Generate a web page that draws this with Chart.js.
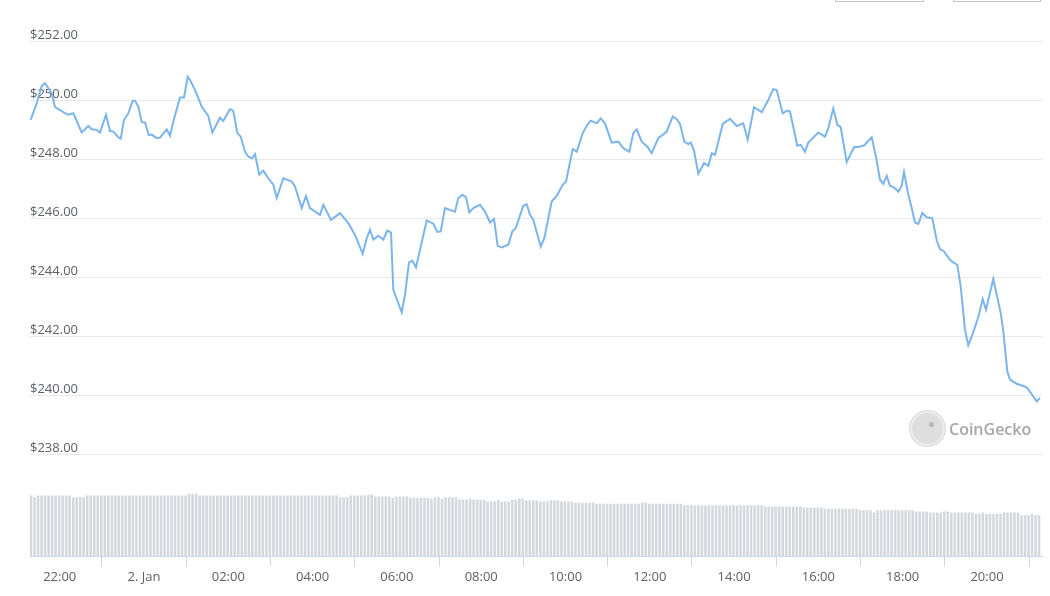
<!DOCTYPE html>
<html>
<head>
<meta charset="utf-8">
<title>Price chart</title>
<script src="https://cdn.jsdelivr.net/npm/chart.js@4.4.1/dist/chart.umd.min.js"></script>
<style>
  body { margin: 0; background: #fff; }
  #wrap { position: relative; width: 1050px; height: 596px; overflow: hidden; }
  .btn { position: absolute; top: -20px; height: 20px; border: 1px solid #c8c8c8; background: #fff; }
  .wm { position: absolute; left: 910px; top: 411px; display: flex; align-items: center; }
  .wm .logo { width: 31px; height: 31px; border-radius: 50%; background: #dedede; border: 2px solid #eeeeee; box-shadow: 0 0 0 1px #d6d6d6; position: relative; }
  .wm .logo .eye { position: absolute; left: 17px; top: 9px; width: 5px; height: 5px; border-radius: 50%; background: #b5b5b5; }
  .wm span { margin-left: 4px; font: 600 16px 'Open Sans', sans-serif; color: #a6a6a6; }
</style>
</head>
<body>
<div id="wrap">
  <canvas id="priceChart" width="1050" height="596"></canvas>
  <div class="btn" style="left:835px;width:87px"></div>
  <div class="btn" style="left:953px;width:86px"></div>
  <div class="wm"><div class="logo"><div class="eye"></div></div><span>CoinGecko</span></div>
</div>
<script>
// hours relative to 00:00 on 2 Jan (negative = 1 Jan)
const priceTimes = [
  -2.688, -2.546, -2.427, -2.349, -2.190, -2.111, -1.915, -1.796, -1.677, -1.478,
  -1.321, -1.241, -1.122, -1.044, -0.902, -0.807, -0.728, -0.610, -0.553, -0.474,
  -0.372, -0.268, -0.214, -0.135, -0.055, 0.024, 0.112, 0.183, 0.301, 0.380,
  0.539, 0.617, 0.695, 0.854, 0.949, 1.037, 1.091, 1.210, 1.369, 1.525,
  1.620, 1.803, 1.881, 2.040, 2.119, 2.214, 2.294, 2.396, 2.475, 2.569,
  2.633, 2.735, 2.830, 2.949, 3.068, 3.148, 3.305, 3.504, 3.582, 3.741,
  3.843, 3.938, 4.176, 4.254, 4.437, 4.650, 4.847, 5.006, 5.189, 5.283,
  5.362, 5.440, 5.559, 5.677, 5.772, 5.860, 5.915, 6.114, 6.192, 6.287,
  6.365, 6.453, 6.707, 6.864, 6.959, 7.039, 7.141, 7.378, 7.457, 7.552,
  7.639, 7.718, 7.813, 7.972, 8.090, 8.209, 8.304, 8.391, 8.486, 8.643,
  8.738, 8.819, 8.999, 9.079, 9.158, 9.236, 9.412, 9.497, 9.673, 9.791,
  9.934, 10.012, 10.171, 10.266, 10.408, 10.517, 10.598, 10.740, 10.835, 10.937,
  11.096, 11.253, 11.371, 11.514, 11.609, 11.689, 11.808, 11.941, 12.045, 12.202,
  12.401, 12.543, 12.638, 12.717, 12.819, 12.913, 12.970, 13.049, 13.151, 13.286,
  13.388, 13.469, 13.547, 13.730, 13.903, 14.062, 14.218, 14.323, 14.472, 14.655,
  14.811, 14.930, 15.011, 15.153, 15.262, 15.326, 15.500, 15.580, 15.682, 15.760,
  15.998, 16.157, 16.235, 16.354, 16.448, 16.529, 16.671, 16.845, 16.970, 17.082,
  17.265, 17.367, 17.461, 17.540, 17.620, 17.699, 17.794, 17.896, 17.976, 18.031,
  18.133, 18.214, 18.292, 18.370, 18.465, 18.569, 18.702, 18.807, 18.885, 18.980,
  19.122, 19.200, 19.295, 19.376, 19.478, 19.556, 19.661, 19.794, 19.898, 19.976,
  20.149, 20.325, 20.387, 20.482, 20.546, 20.705, 20.830, 20.949, 21.098, 21.179,
  21.258
];
const prices = [
  249.33, 249.89, 250.48, 250.57, 250.23, 249.76, 249.59, 249.50, 249.55, 248.90,
  249.12, 249.01, 248.99, 248.90, 249.50, 248.95, 248.93, 248.74, 248.69, 249.33,
  249.55, 249.98, 249.98, 249.78, 249.25, 249.24, 248.81, 248.83, 248.71, 248.73,
  249.01, 248.79, 249.27, 250.09, 250.09, 250.79, 250.68, 250.34, 249.78, 249.46,
  248.90, 249.40, 249.29, 249.69, 249.63, 248.88, 248.76, 248.25, 248.08, 248.03,
  248.17, 247.47, 247.61, 247.35, 247.13, 246.68, 247.35, 247.24, 247.07, 246.34,
  246.75, 246.34, 246.11, 246.45, 245.94, 246.17, 245.83, 245.43, 244.79, 245.32,
  245.60, 245.27, 245.40, 245.27, 245.58, 245.51, 243.57, 242.81, 243.40, 244.50,
  244.56, 244.33, 245.92, 245.81, 245.53, 245.55, 246.34, 246.22, 246.68, 246.79,
  246.71, 246.19, 246.34, 246.45, 246.22, 245.85, 245.97, 245.06, 245.01, 245.10,
  245.55, 245.66, 246.42, 246.47, 246.11, 245.94, 245.04, 245.32, 246.56, 246.75,
  247.13, 247.24, 248.34, 248.25, 248.88, 249.16, 249.30, 249.21, 249.38, 249.21,
  248.56, 248.59, 248.37, 248.25, 248.88, 249.01, 248.59, 248.42, 248.20, 248.71,
  248.93, 249.44, 249.35, 249.19, 248.59, 248.51, 248.56, 248.29, 247.50, 247.86,
  247.77, 248.20, 248.14, 249.19, 249.36, 249.12, 249.21, 248.65, 249.76, 249.59,
  250.00, 250.37, 250.34, 249.55, 249.64, 249.61, 248.45, 248.48, 248.25, 248.56,
  248.90, 248.76, 249.05, 249.72, 249.16, 249.08, 247.90, 248.40, 248.42, 248.46,
  248.74, 248.08, 247.30, 247.16, 247.43, 247.09, 247.04, 246.90, 247.09, 247.56,
  246.79, 246.34, 245.85, 245.80, 246.17, 246.03, 246.00, 245.24, 244.95, 244.87,
  244.59, 244.50, 244.42, 243.69, 242.22, 241.69, 242.08, 242.65, 243.26, 242.90,
  243.94, 242.79, 242.16, 240.81, 240.53, 240.39, 240.33, 240.26, 239.96, 239.79,
  239.91
];

// 24h rolling volume (millions), one bar every 5 minutes, as [value, number of bars]
const volumeStart = -2.68;
const volumeRuns = [
  [610, 1], [593, 1], [610, 10], [593, 4], [610, 29], [627, 3], [610, 40], [593, 3],
  [610, 5], [617, 2], [600, 5], [587, 1], [600, 4], [587, 6], [577, 1], [593, 2],
  [577, 1], [593, 4], [570, 3], [580, 1], [567, 4], [550, 3], [567, 1], [550, 3],
  [567, 2], [580, 2], [563, 4], [550, 3], [563, 3], [550, 4], [537, 6], [527, 13],
  [540, 2], [527, 10], [513, 23], [500, 11], [490, 6], [477, 10], [463, 4], [440, 1],
  [463, 11], [450, 4], [440, 4], [450, 2], [440, 7], [427, 2], [440, 1], [427, 5],
  [440, 5], [413, 3], [427, 1], [413, 2]
];

const tickHours = [-2, 0, 2, 4, 6, 8, 10, 12, 14, 16, 18, 20];
const tickLabels = ['22:00', '2. Jan', '02:00', '04:00', '06:00', '08:00', '10:00', '12:00', '14:00', '16:00', '18:00', '20:00'];
const priceTicks = [238, 240, 242, 244, 246, 248, 250, 252];

const linePoints = priceTimes.map((t, i) => ({ x: t, y: prices[i] }));
const volumePoints = [];
volumeRuns.forEach(run => {
    for (let k = 0; k < run[1]; k++) {
        volumePoints.push({ x: volumeStart + volumePoints.length / 12, y: run[0] });
    }
});

const labelFont = { family: "'Open Sans', sans-serif", size: 13 };

const ctx = document.getElementById('priceChart');
const priceChart = new Chart(ctx, {
    type: 'line',
    data: {
        datasets: [{
            type: 'line',
            data: linePoints,
            borderColor: '#7cb5ec',
            borderWidth: 2,
            pointRadius: 0,
            tension: 0,
            order: 0,
            yAxisID: 'y'
        }, {
            type: 'bar',
            data: volumePoints,
            backgroundColor: '#d4d7dc',
            borderWidth: 0,
            barPercentage: 1,
            categoryPercentage: 0.72,
            order: 1,
            yAxisID: 'yv'
        }]
    },
    options: {
        responsive: false,
        animation: false,
        layout: { padding: { left: 30, right: 8, top: 41, bottom: 8 } },
        plugins: { legend: { display: false }, tooltip: { enabled: false } },
        scales: {
            x: {
                type: 'linear',
                min: -2.705,
                max: 21.305,
                offset: false,
                afterBuildTicks: axis => { axis.ticks = tickHours.map(v => ({ value: v })); },
                ticks: {
                    autoSkip: false,
                    maxRotation: 0,
                    padding: 3,
                    color: '#5e6068',
                    font: labelFont,
                    callback: (value) => tickLabels[tickHours.indexOf(value)]
                },
                grid: { drawOnChartArea: false, drawTicks: true, tickLength: 10, color: '#ccd6eb' },
                border: { display: true, color: '#ccd6eb' }
            },
            y: {
                type: 'linear',
                position: 'left',
                min: 234.54,
                max: 252,
                afterBuildTicks: axis => { axis.ticks = priceTicks.map(v => ({ value: v })); },
                ticks: {
                    mirror: true,
                    padding: 0,
                    labelOffset: -6,
                    color: '#5e6068',
                    font: labelFont,
                    callback: (value) => '$' + value.toFixed(2)
                },
                grid: { drawTicks: false, color: '#e9e9e9' },
                border: { display: false }
            },
            yv: {
                type: 'linear',
                display: false,
                min: 0,
                max: 5160
            }
        }
    }
});
</script>
</body>
</html>
